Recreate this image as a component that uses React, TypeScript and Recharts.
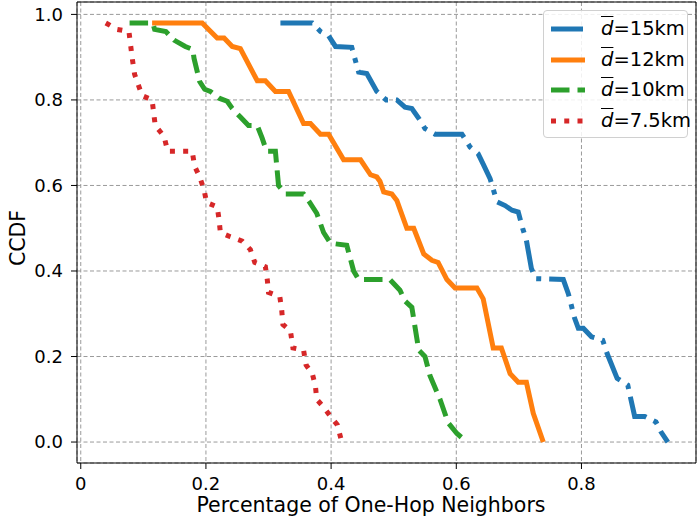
import { LineChart, Line, XAxis, YAxis, CartesianGrid } from "recharts";

// CCDF curves, [fraction of one-hop neighbours, CCDF]
const d15: [number, number][] = [
  [0.319, 0.98], [0.37, 0.98], [0.383, 0.96], [0.396, 0.95], [0.407, 0.925], [0.433, 0.923],
  [0.444, 0.865], [0.457, 0.862], [0.473, 0.82], [0.488, 0.8], [0.505, 0.8], [0.518, 0.783],
  [0.529, 0.78], [0.54, 0.757], [0.55, 0.733], [0.566, 0.72], [0.609, 0.72], [0.622, 0.69],
  [0.635, 0.674], [0.643, 0.65], [0.654, 0.616], [0.665, 0.562], [0.678, 0.553], [0.689, 0.542],
  [0.699, 0.538], [0.706, 0.5], [0.712, 0.472], [0.72, 0.406], [0.727, 0.382], [0.771, 0.38],
  [0.779, 0.347], [0.789, 0.29], [0.795, 0.266], [0.803, 0.266], [0.816, 0.246], [0.834, 0.238],
  [0.841, 0.207], [0.857, 0.149], [0.874, 0.133], [0.885, 0.06], [0.901, 0.06], [0.919, 0.047],
  [0.927, 0.024], [0.938, 0.0],
];

const d12: [number, number][] = [
  [0.114, 0.98], [0.194, 0.98], [0.218, 0.945], [0.229, 0.945], [0.242, 0.925], [0.255, 0.92],
  [0.282, 0.845], [0.295, 0.845], [0.311, 0.82], [0.332, 0.82], [0.356, 0.745], [0.367, 0.745],
  [0.383, 0.72], [0.396, 0.72], [0.42, 0.66], [0.447, 0.66], [0.463, 0.625], [0.473, 0.62],
  [0.478, 0.61], [0.484, 0.585], [0.497, 0.58], [0.505, 0.565], [0.521, 0.5], [0.532, 0.5],
  [0.548, 0.44], [0.561, 0.425], [0.571, 0.42], [0.585, 0.38], [0.598, 0.36], [0.633, 0.36],
  [0.643, 0.335], [0.659, 0.22], [0.672, 0.22], [0.686, 0.16], [0.699, 0.14], [0.712, 0.14],
  [0.723, 0.067], [0.739, 0.0],
];

const d10: [number, number][] = [
  [0.078, 0.98], [0.115, 0.98], [0.118, 0.965], [0.136, 0.96], [0.149, 0.94], [0.167, 0.925],
  [0.179, 0.918], [0.181, 0.897], [0.19, 0.843], [0.198, 0.825], [0.207, 0.82], [0.221, 0.804],
  [0.234, 0.797], [0.242, 0.78], [0.255, 0.76], [0.268, 0.74], [0.282, 0.74], [0.29, 0.71],
  [0.297, 0.68], [0.311, 0.68], [0.316, 0.6], [0.327, 0.58], [0.356, 0.58], [0.366, 0.56],
  [0.377, 0.535], [0.388, 0.49], [0.399, 0.465], [0.425, 0.46], [0.436, 0.4], [0.444, 0.38],
  [0.494, 0.38], [0.51, 0.355], [0.518, 0.33], [0.529, 0.315], [0.54, 0.215], [0.55, 0.2],
  [0.558, 0.155], [0.574, 0.1], [0.587, 0.045], [0.601, 0.02], [0.617, 0.0],
];

const d75: [number, number][] = [
  [0.04, 0.98], [0.058, 0.965], [0.077, 0.96], [0.082, 0.9], [0.086, 0.86], [0.098, 0.81],
  [0.114, 0.8], [0.119, 0.74], [0.133, 0.715], [0.139, 0.68], [0.178, 0.68], [0.182, 0.645],
  [0.19, 0.62], [0.197, 0.59], [0.201, 0.56], [0.218, 0.55], [0.221, 0.52], [0.223, 0.49],
  [0.239, 0.48], [0.258, 0.47], [0.271, 0.45], [0.278, 0.42], [0.295, 0.41], [0.298, 0.38],
  [0.3, 0.35], [0.318, 0.34], [0.321, 0.31], [0.323, 0.275], [0.335, 0.26], [0.339, 0.22],
  [0.356, 0.215], [0.36, 0.18], [0.37, 0.16], [0.375, 0.13], [0.377, 0.1], [0.389, 0.08],
  [0.399, 0.06], [0.41, 0.04], [0.417, 0.0],
];

const xTicks = [0, 0.2, 0.4, 0.6, 0.8, 1];
const yTicks = [0, 0.2, 0.4, 0.6, 0.8, 1.0];

const xDomain: [number, number] = [-0.006, 0.983];
const yDomain: [number, number] = [-0.049, 1.029];

const font = "'DejaVu Sans', sans-serif";

const series = [
  { key: "15", label: "=15km", pts: d15, color: "#1f77b4", dash: "32 8 5 8" },
  { key: "12", label: "=12km", pts: d12, color: "#ff7f0e", dash: undefined },
  { key: "10", label: "=10km", pts: d10, color: "#2ca02c", dash: "18.5 8" },
  { key: "7.5", label: "=7.5km", pts: d75, color: "#d62728", dash: "5 8.25" },
];

const toRows = (pts: [number, number][]) => pts.map(([x, y]) => ({ x, y }));

function XTick({ x, y, payload }: any) {
  const v = payload.value as number;
  const txt = v === 0 ? "0" : v === 1 ? "1" : v.toFixed(1);
  return (
    <text x={Math.min(x, 703)} y={y} dy="0.71em" textAnchor="middle" fontSize={18} fill="#000" fontFamily={font}>
      {txt}
    </text>
  );
}

// legend box sits in the upper right corner, like matplotlib's "best" placement here
function ChartLegend() {
  return (
    <div
      style={{
        position: "absolute",
        left: 543,
        top: 10,
        width: 145,
        height: 128,
        boxSizing: "border-box",
        border: "1px solid #d0d0d0",
        borderRadius: 4,
        background: "rgba(255,255,255,0.85)",
        fontFamily: font,
        fontSize: 19.5,
        color: "#000",
      }}
    >
      {series.map((s, i) => (
        <div key={s.key} style={{ position: "absolute", left: 0, top: 3 + i * 30.5, height: 30, width: 143 }}>
          <svg width={34} height={8} style={{ position: "absolute", left: 7, top: 11 }}>
            <line x1={0} y1={4} x2={34} y2={4} stroke={s.color} strokeWidth={5} strokeDasharray={s.dash} />
          </svg>
          <span style={{ position: "absolute", left: 57, top: 2, whiteSpace: "nowrap", lineHeight: "26px" }}>
            <span style={{ fontStyle: "italic", textDecoration: "overline" }}>d</span>
            {s.label}
          </span>
        </div>
      ))}
    </div>
  );
}

export default function App() {
  return (
    <div style={{ position: "absolute", left: 0, top: 0, width: 697, height: 523, background: "#fff" }}>
      <LineChart width={697} height={523} margin={{ top: 1, right: 0, left: 0, bottom: 0 }}>
        <CartesianGrid xAxisId="b" yAxisId="l" stroke="#9a9a9a" strokeDasharray="4 2.5" />
        <XAxis
          xAxisId="b"
          type="number"
          dataKey="x"
          domain={xDomain}
          allowDataOverflow
          ticks={xTicks}
          interval={0}
          height={60}
          tickSize={6}
          tickMargin={8}
          stroke="#000"
          tick={<XTick />}
          label={{
            content: () => (
              <text x={371} y={512} textAnchor="middle" fontSize={20.5} fill="#000" fontFamily={font}>
                Percentage of One-Hop Neighbors
              </text>
            ),
          }}
        />
        <XAxis xAxisId="t" orientation="top" type="number" dataKey="x" domain={xDomain} allowDataOverflow height={1} tick={false} tickLine={false} stroke="#000" />
        <YAxis
          yAxisId="l"
          type="number"
          domain={yDomain}
          allowDataOverflow
          ticks={yTicks}
          interval={0}
          width={77}
          tickSize={6}
          tickMargin={8}
          stroke="#000"
          tickFormatter={(v: number) => v.toFixed(1)}
          tick={{ fontSize: 18, fill: "#000", fontFamily: font }}
          label={{
            content: () => (
              <text x={25} y={238} transform="rotate(-90, 25, 238)" textAnchor="middle" fontSize={20.5} fill="#000" fontFamily={font}>
                CCDF
              </text>
            ),
          }}
        />
        <YAxis yAxisId="r" orientation="right" type="number" domain={yDomain} allowDataOverflow width={1} tick={false} tickLine={false} stroke="#000" />
        {series.map((s) => (
          <Line
            key={s.key}
            xAxisId="b"
            yAxisId="l"
            data={toRows(s.pts)}
            dataKey="y"
            type="linear"
            stroke={s.color}
            strokeWidth={5}
            strokeDasharray={s.dash}
            dot={false}
            activeDot={false}
            isAnimationActive={false}
          />
        ))}
      </LineChart>
      <ChartLegend />
    </div>
  );
}
